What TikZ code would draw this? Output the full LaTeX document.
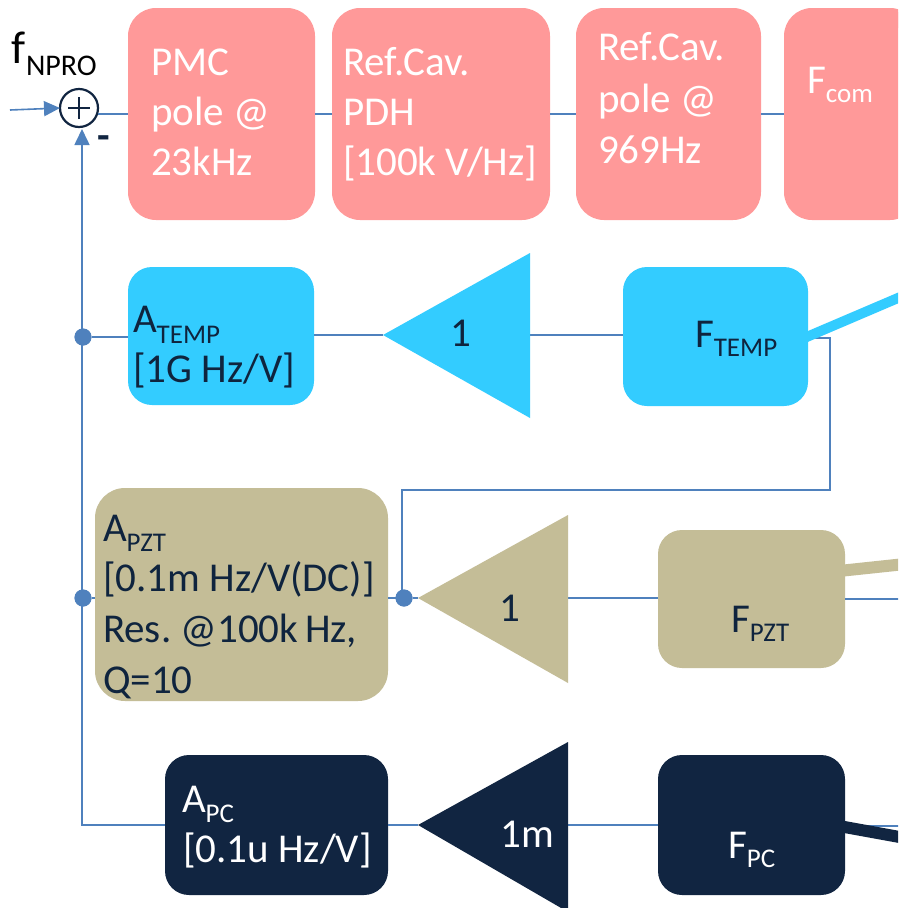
\documentclass[tikz,border=0pt]{standalone}
\usepackage{fontspec}
\setmainfont{Carlito}
\usetikzlibrary{arrows.meta}
\definecolor{pinkc}{RGB}{255,153,153}
\definecolor{cyanc}{RGB}{51,204,255}
\definecolor{tanc}{RGB}{196,189,151}
\definecolor{navyc}{RGB}{17,37,65}
\definecolor{linec}{RGB}{79,129,189}
\definecolor{darktext}{RGB}{15,36,62}
\newcommand{\subs}[3]{\raisebox{#1}{\fontsize{#2}{#2}\selectfont #3}}
\begin{document}
\begin{tikzpicture}[x=1pt,y=-1pt,
  box/.style={rectangle, rounded corners=28pt, fill=#1, draw=none, inner sep=0pt, outer sep=0pt},
  txt/.style={inner sep=0pt, outer sep=0pt, anchor=base west, font=\fontsize{41}{50}\selectfont},
  wtxt/.style={txt, text=white},
  dtxt/.style={txt, text=darktext},
  conn/.style={draw=linec, line width=1.6pt},
  dotc/.style={circle, fill=linec, minimum size=17pt, inner sep=0pt, outer sep=0pt},
  tip/.style={-{Triangle[length=16pt,width=15pt]}}
]
\useasboundingbox (0,0) rectangle (898,908);
\clip (0,0) rectangle (898,908);
\fill[white] (0,0) rectangle (898,908);

% ---------- coordinates ----------
\coordinate (inp) at (10,110);
\coordinate (t1tip) at (383,335);
\coordinate (t1base) at (530,335);
\coordinate (t2tip) at (418,598);
\coordinate (t2base) at (568,598);
\coordinate (t3tip) at (418,825);
\coordinate (t3base) at (568,825);
\coordinate (fbcorner) at (82,825);
\coordinate (rt1) at (830,338);
\coordinate (rt2) at (830,490);
\coordinate (rt3) at (402,490);
\coordinate (exTemp) at (905,295);
\coordinate (exPzt) at (905,564);
\coordinate (exPztThin) at (905,599);
\coordinate (exPc) at (905,838);
\coordinate (exPcThin) at (905,826);
\coordinate (exCom) at (935,-25);

% ---------- boxes (nodes) ----------
\node[box=pinkc, minimum width=187pt, minimum height=212pt] (pmc) at (221.5,114) {};
\node[box=pinkc, minimum width=218pt, minimum height=212pt] (pdh) at (441,114) {};
\node[box=pinkc, minimum width=185pt, minimum height=212pt] (rcp) at (668.5,114) {};
\node[box=pinkc, minimum width=134pt, minimum height=212pt] (fcom) at (851,114) {};

\node[box=cyanc, minimum width=186pt, minimum height=138pt, rounded corners=24pt] (atemp) at (221,336) {};
\node[box=cyanc, minimum width=185pt, minimum height=139pt, rounded corners=24pt] (ftemp) at (715.5,336.5) {};

\node[box=tanc, minimum width=293pt, minimum height=213pt, rounded corners=30pt] (apzt) at (241.5,594.5) {};
\node[box=tanc, minimum width=187pt, minimum height=138pt, rounded corners=24pt] (fpzt) at (751.5,599) {};

\node[box=navyc, minimum width=223pt, minimum height=140pt, rounded corners=24pt] (apc) at (276.5,825) {};
\node[box=navyc, minimum width=187pt, minimum height=140pt, rounded corners=24pt] (fpc) at (751.5,825) {};

% ---------- summing junction ----------
\node[circle, draw=navyc, line width=2.2pt, fill=white, minimum size=38pt, inner sep=0pt, outer sep=0pt] (sum) at (79,108) {};

% ---------- connectors ----------
\draw[conn, tip] (inp) -- (sum.west);
\draw[conn] (sum.east |- pmc.west) -- (pmc.west);
\draw[conn] (pmc.east) -- (pdh.west);
\draw[conn] (pdh.east) -- (rcp.west);
\draw[conn] (rcp.east) -- (fcom.west);

\draw[conn, tip] (apc.west) -- (fbcorner) -- (82,129);

\node[dotc] (d1) at (83,337) {};
\node[dotc] (d2) at (83,598) {};
\node[dotc] (d3) at (404,598) {};

\draw[conn] (d1) -- (atemp.west |- d1);
\draw[conn] (d2) -- (apzt.west |- d2);
\draw[conn] (atemp.east |- t1tip) -- (t1tip);
\draw[conn] (t1base) -- (ftemp.west |- t1base);
\draw[conn] (ftemp.east |- rt1) -- (rt1) -- (rt2) -- (rt3) -- (rt3 |- d3);
\draw[conn] (apzt.east |- d3) -- (d3) -- (t2tip);
\draw[conn] (t2base) -- (fpzt.west |- t2base);
\draw[conn] (fpzt.east |- exPztThin) -- (exPztThin);
\draw[conn] (apc.east) -- (t3tip);
\draw[conn] (t3base) -- (fpc.west);
\draw[conn] (fpc.east |- exPcThin) -- (exPcThin);

% thick coloured leads
\draw[cyanc, line width=10pt] ([xshift=-6pt]ftemp.east |- 0,339) -- (exTemp);
\draw[tanc, line width=12pt] ([xshift=-6pt]fpzt.east |- 0,571) -- (exPzt);
\draw[navyc, line width=12pt] ([xshift=-6pt]fpc.east |- 0,826) -- (exPc);
\draw[pinkc, line width=10pt] (890,30) -- (exCom);

% redraw dots on top
\node[dotc] at (d1) {};
\node[dotc] at (d2) {};
\node[dotc] at (d3) {};

% ---------- triangles ----------
\fill[cyanc] (t1tip) -- (530,253) -- (530,418) -- cycle;
\fill[tanc] (t2tip) -- (568,515) -- (568,683) -- cycle;
\fill[navyc] (t3tip) -- (568,742) -- (568,912) -- cycle;

% ---------- plus / minus ----------
\draw[navyc, line width=1.8pt] ([xshift=-11pt]sum.center) -- ([xshift=11pt]sum.center);
\draw[navyc, line width=1.8pt] ([yshift=-11pt]sum.center) -- ([yshift=11pt]sum.center);
\node[txt, font=\fontsize{41}{50}\selectfont\bfseries, text=navyc] (minus) at (97,149) {-};

% ---------- texts ----------
\node[txt, text=black, font=\fontsize{46}{50}\selectfont] (fnpro) at (12,63) {f\subs{-12pt}{30}{NPRO}};

\node[wtxt] (p1) at (151,75) {PMC};
\node[wtxt] (p2) at (151,125) {pole @};
\node[wtxt] (p3) at (151,175) {23kHz};

\node[wtxt] (q1) at (343,75) {Ref.Cav.};
\node[wtxt] (q2) at (343,125) {PDH};
\node[wtxt] (q3) at (343,175) {[100k V/Hz]};

\node[wtxt] (r1) at (598,60) {Ref.Cav.};
\node[wtxt] (r2) at (598,112) {pole @};
\node[wtxt] (r3) at (598,163) {969Hz};

\node[wtxt] (fc) at (807,93) {F\subs{-9pt}{27}{com}};

\node[dtxt] (at1) at (133,332) {A\subs{-11pt}{27}{TEMP}};
\node[dtxt] (at2) at (133,382) {[1G Hz/V]};
\node[dtxt, anchor=base] (g1) at (461,346) {1};
\node[dtxt] (ft) at (695,347) {F\subs{-9pt}{27}{TEMP}};

\node[dtxt] (ap1) at (103,541) {A\subs{-10pt}{27}{PZT}};
\node[dtxt] (ap2) at (103,591) {[0.1m Hz/V(DC)]};
\node[dtxt] (ap3) at (103,642) {Res.\ @100k\,Hz,};
\node[dtxt] (ap4) at (103,693) {Q=10};
\node[dtxt, anchor=base] (g2) at (510,621) {1};
\node[dtxt] (fp) at (731,632) {F\subs{-9pt}{27}{PZT}};

\node[wtxt] (ac1) at (182,812) {A\subs{-10pt}{27}{PC}};
\node[wtxt] (ac2) at (183,862) {[0.1u Hz/V]};
\node[wtxt, anchor=base] (g3) at (527,847) {1m};
\node[wtxt] (fpct) at (728,858) {F\subs{-9pt}{27}{PC}};
\end{tikzpicture}
\end{document}
